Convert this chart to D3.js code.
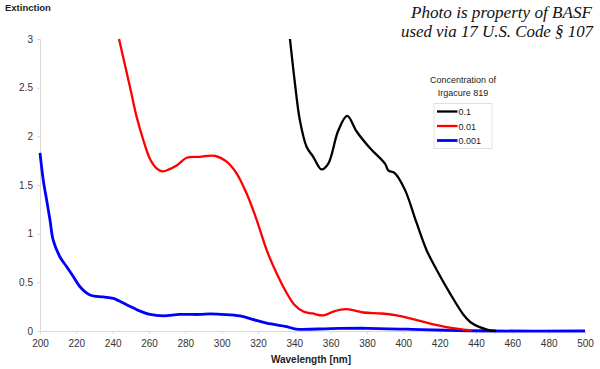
<!DOCTYPE html>
<html><head><meta charset="utf-8">
<script src="https://cdn.jsdelivr.net/npm/d3@7/dist/d3.min.js"></script>
<style>body{margin:0;background:#fff}svg{display:block}</style>
</head><body>
<svg id="chart" width="600" height="369"></svg>
<script>
// ---- data ----
const xTicks = [200,220,240,260,280,300,320,340,360,380,400,420,440,460,480,500];
const yTicks = [0,0.5,1,1.5,2,2.5,3];
const seriesNames = ["0.1","0.01","0.001"];
const seriesColors = ["#000000","#ff0000","#0000ff"];
const black01 = [[337.6,3.0],[340.3,2.55],[343,2.17],[346.8,1.89],[350.4,1.79],[355,1.66],[358.7,1.72],[364.2,2.06],[369.1,2.21],[374.3,2.05],[381.6,1.88],[389.9,1.72],[391.7,1.65],[395.4,1.62],[400.9,1.45],[407.3,1.11],[412.8,0.83],[418.3,0.63],[425.6,0.39],[433,0.17],[437,0.09],[442,0.04],[447,0.01],[451,0.0]];
const red001 = [[243.5,3.0],[249.5,2.51],[253.2,2.2],[256.9,1.96],[260.5,1.77],[264.2,1.67],[267.5,1.64],[271,1.66],[275.2,1.70],[280.7,1.78],[288,1.79],[296.3,1.80],[302.7,1.74],[308.2,1.62],[313.8,1.41],[319.3,1.14],[324.8,0.83],[330.3,0.59],[335.8,0.39],[340,0.27],[345,0.20],[350,0.18],[356,0.16],[361.4,0.20],[368.8,0.225],[378,0.19],[388,0.18],[396.3,0.16],[403.6,0.13],[412.8,0.085],[423.8,0.04],[437.6,0.005]];
const blue0001 = [[200,1.83],[201.8,1.55],[203.7,1.34],[205.5,1.14],[207.3,0.93],[211,0.76],[214.7,0.66],[218.3,0.56],[222,0.455],[227.5,0.37],[234.8,0.35],[240.3,0.335],[247.7,0.27],[255,0.205],[260.5,0.17],[267.9,0.155],[277,0.17],[288,0.17],[293.6,0.175],[300,0.17],[310,0.155],[317,0.12],[324.8,0.08],[335.8,0.045],[341,0.02],[360,0.025],[380,0.028],[410,0.015],[430,0.005],[450,0.0],[500,0.0]];
const seriesData = [black01, red001, blue0001];

// ---- chart ----
const svg = d3.select("#chart");
const x = d3.scaleLinear().domain([200,500]).range([40,585]);
const y = d3.scaleLinear().domain([0,3]).range([331,39]);
const font = "'Liberation Sans', Arial, sans-serif";

// y axis
const yAxis = svg.append("g").attr("transform","translate(40,0)")
  .call(d3.axisLeft(y).tickValues(yTicks).tickSize(3).tickPadding(4).tickFormat(d3.format("")));
yAxis.select(".domain").attr("stroke","#d9d9d9");
yAxis.selectAll(".tick line").attr("stroke","#d9d9d9");
yAxis.selectAll("text").attr("font-family",font).attr("font-size",10).attr("fill","#333");

// x axis
const xAxis = svg.append("g").attr("transform","translate(0,331)")
  .call(d3.axisBottom(x).tickValues(xTicks).tickSize(3).tickPadding(6));
xAxis.select(".domain").attr("stroke","#d9d9d9");
xAxis.selectAll(".tick line").attr("stroke","#d9d9d9");
xAxis.selectAll("text").attr("font-family",font).attr("font-size",10).attr("fill","#333");

// lines
const line = d3.line().x(d=>x(d[0])).y(d=>y(d[1])).curve(d3.curveCatmullRom.alpha(0.5));
const widths = [2.3,2.3,2.8];
[2,1,0].forEach(i=>{
  svg.append("path").datum(seriesData[i]).attr("d",line)
    .attr("fill","none").attr("stroke",seriesColors[i]).attr("stroke-width",widths[i])
    .attr("stroke-linejoin","round");
});

// axis titles
svg.append("text").attr("x",5).attr("y",11).text("Extinction")
  .attr("font-family",font).attr("font-size",9.5).attr("font-weight","bold").attr("fill","#222");
svg.append("text").attr("x",311).attr("y",363).attr("text-anchor","middle").text("Wavelength [nm]")
  .attr("font-family",font).attr("font-size",10).attr("font-weight","bold").attr("fill","#222");

// legend
svg.append("text").attr("x",463).attr("y",83).attr("text-anchor","middle").text("Concentration of")
  .attr("font-family",font).attr("font-size",9).attr("fill","#222");
svg.append("text").attr("x",463).attr("y",96).attr("text-anchor","middle").text("Irgacure 819")
  .attr("font-family",font).attr("font-size",9).attr("fill","#222");
svg.append("rect").attr("x",434).attr("y",103.5).attr("width",58).attr("height",45)
  .attr("fill","#fff").attr("stroke","#d9d9d9").attr("stroke-width",0.8);
const rowY = [111.5,126,140.5];
seriesNames.forEach((n,i)=>{
  svg.append("line").attr("x1",437).attr("x2",457.5).attr("y1",rowY[i]).attr("y2",rowY[i])
    .attr("stroke",seriesColors[i]).attr("stroke-width",widths[i]);
  svg.append("text").attr("x",458.5).attr("y",rowY[i]+3.5).text(n)
    .attr("font-family",font).attr("font-size",9).attr("fill","#222");
});

// watermark
svg.append("text").attr("x",592).attr("y",17.5).attr("text-anchor","end")
  .attr("font-family","'Liberation Serif','DejaVu Serif',serif").attr("font-style","italic").attr("font-size",16)
  .attr("textLength",181).attr("lengthAdjust","spacingAndGlyphs").attr("fill","#111")
  .text("Photo is property of BASF");
svg.append("text").attr("x",593).attr("y",36.5).attr("text-anchor","end")
  .attr("font-family","'Liberation Serif','DejaVu Serif',serif").attr("font-style","italic").attr("font-size",16)
  .attr("textLength",192).attr("lengthAdjust","spacingAndGlyphs").attr("fill","#111")
  .text("used via 17 U.S. Code § 107");
</script>
</body></html>
